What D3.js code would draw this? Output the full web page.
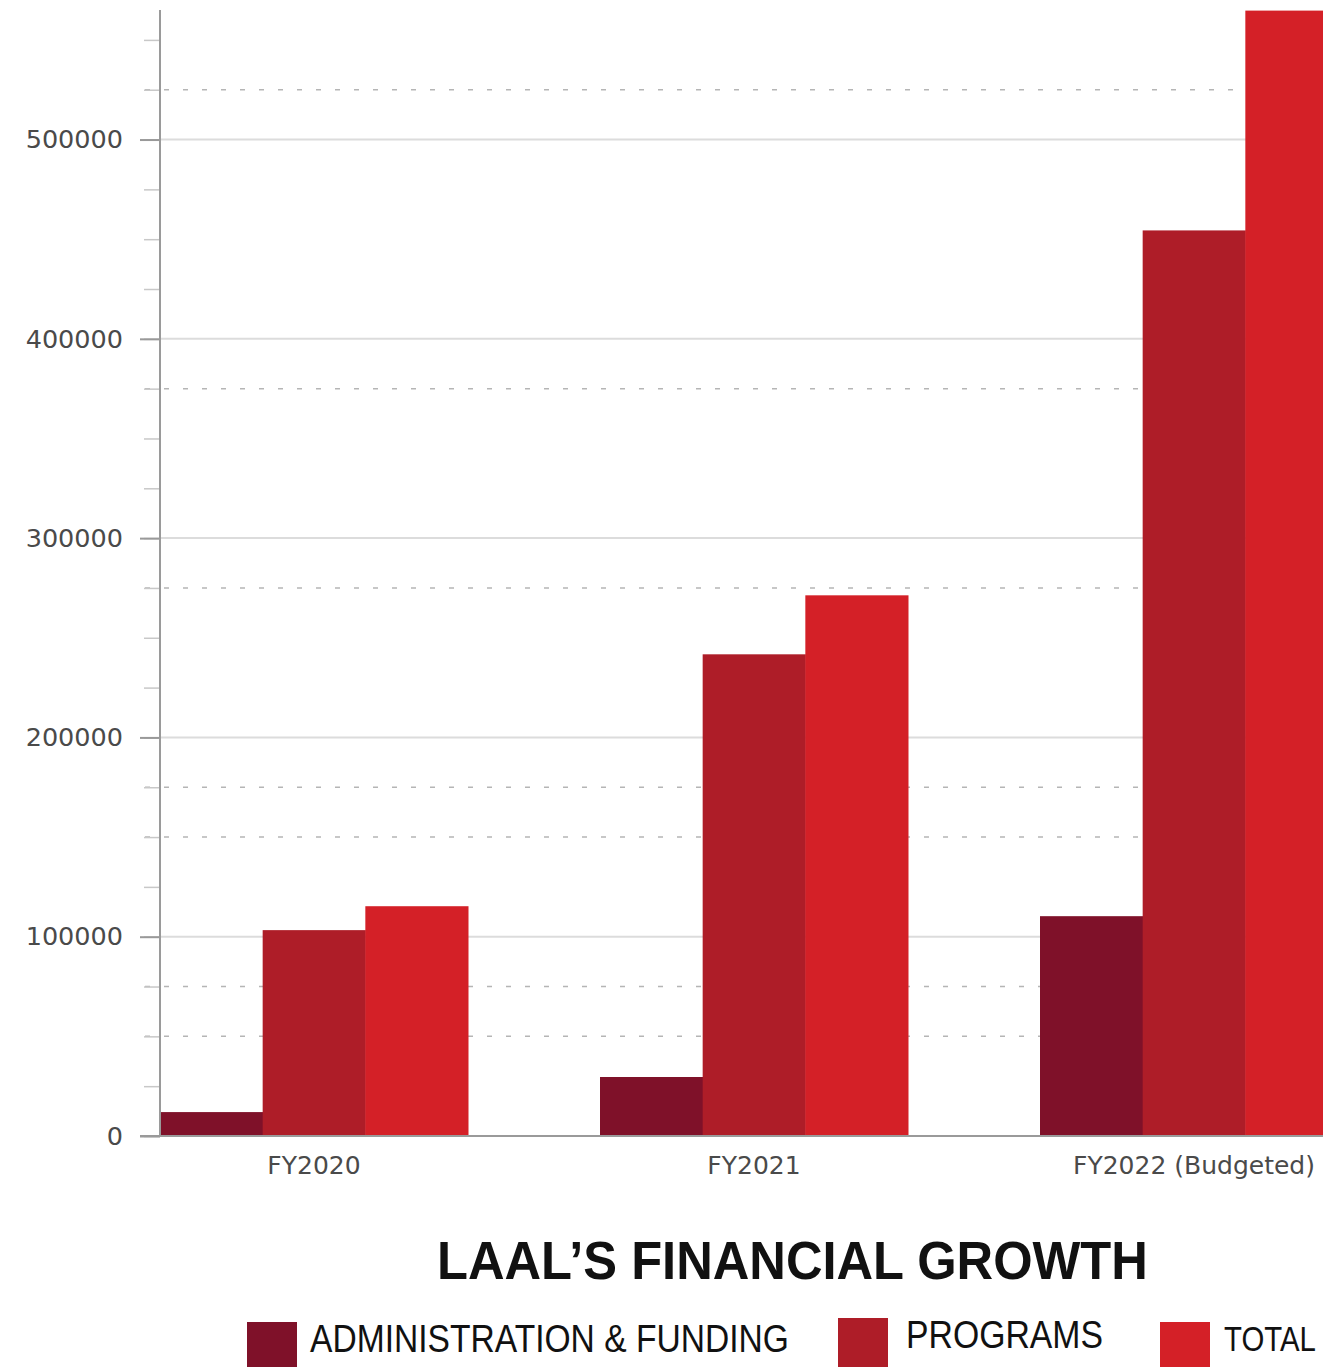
<!DOCTYPE html>
<html>
<head>
<meta charset="utf-8">
<script src="https://cdn.jsdelivr.net/npm/d3@7"></script>
<style>
  body { margin: 0; background: #fff; }
  .axis text { font-family: "DejaVu Sans", sans-serif; fill: #4a4a4a; }
</style>
</head>
<body>
<div id="chart"></div>
<script>
// data
const years = ['FY2020', 'FY2021', 'FY2022 (Budgeted)'];
const seriesNames = ['ADMINISTRATION & FUNDING', 'PROGRAMS', 'TOTAL'];
const adminValues = [12000, 29600, 110300];
const programValues = [103300, 241700, 454400];
const totalValues = [115300, 271300, 564700];
const yTicks = [0, 100000, 200000, 300000, 400000, 500000];
const dashedGrid = [525000, 375000, 275000, 175000, 150000, 75000, 50000];

const colors = ['#7f1129', '#ae1d28', '#d42027'];

const width = 1323, height = 1367;
const svg = d3.select('#chart').append('svg')
    .attr('width', width)
    .attr('height', height);

const x0 = d3.scaleBand()
    .domain(years)
    .range([160, 1348])
    .paddingInner(0.3)
    .paddingOuter(0);

const x1 = d3.scaleBand()
    .domain(seriesNames)
    .range([0, x0.bandwidth()]);

const y = d3.scaleLinear()
    .domain([0, 565000])
    .range([1136, 10]);

const color = d3.scaleOrdinal().domain(seriesNames).range(colors);

// solid gridlines
svg.append('g').selectAll('line')
    .data(yTicks.filter(d => d > 0))
    .join('line')
    .attr('x1', 160).attr('x2', width)
    .attr('y1', d => y(d)).attr('y2', d => y(d))
    .attr('stroke', '#dcdcdc')
    .attr('stroke-width', 2);

// dashed gridlines
svg.append('g').selectAll('line')
    .data(dashedGrid)
    .join('line')
    .attr('x1', 145).attr('x2', width)
    .attr('y1', d => y(d)).attr('y2', d => y(d))
    .attr('stroke', '#b5b5b5')
    .attr('stroke-width', 1.5)
    .attr('stroke-dasharray', '5,14');

// bars
const rows = years.map((yr, i) => ({
  year: yr,
  values: [adminValues[i], programValues[i], totalValues[i]]
}));

svg.append('g').selectAll('g')
    .data(rows)
    .join('g')
    .attr('transform', d => `translate(${x0(d.year)},0)`)
    .selectAll('rect')
    .data(d => d.values.map((v, j) => ({ key: seriesNames[j], value: v })))
    .join('rect')
    .attr('x', d => x1(d.key))
    .attr('width', x1.bandwidth() + 0.5)
    .attr('y', d => y(d.value))
    .attr('height', d => y(0) - y(d.value))
    .attr('fill', d => color(d.key));

// minor ticks
const minorAxis = d3.axisLeft(y)
    .tickValues(d3.range(0, 565000, 25000))
    .tickSize(16)
    .tickFormat('');
svg.append('g')
    .attr('transform', 'translate(160,0)')
    .call(minorAxis)
    .call(g => g.select('.domain').remove())
    .call(g => g.selectAll('.tick line').attr('stroke', '#c8c8c8').attr('stroke-width', 1.5));

// major y axis
const yAxis = d3.axisLeft(y)
    .tickValues(yTicks)
    .tickSize(20)
    .tickPadding(17)
    .tickFormat(d3.format('d'));
svg.append('g')
    .attr('class', 'axis')
    .attr('transform', 'translate(160,0)')
    .call(yAxis)
    .call(g => g.select('.domain').remove())
    .call(g => g.selectAll('.tick line').attr('stroke', '#999').attr('stroke-width', 2))
    .call(g => g.selectAll('.tick text').attr('font-size', 25.5));

// axis lines
svg.append('line')
    .attr('x1', 160).attr('x2', 160)
    .attr('y1', 10).attr('y2', y(0))
    .attr('stroke', '#9a9a9a').attr('stroke-width', 2);

const xAxis = d3.axisBottom(x0).tickSize(0).tickPadding(20);
svg.append('g')
    .attr('class', 'axis')
    .attr('transform', `translate(0,${y(0)})`)
    .call(xAxis)
    .call(g => g.select('.domain').remove())
    .call(g => g.selectAll('.tick text').attr('font-size', 25));

svg.append('line')
    .attr('x1', 140).attr('x2', width)
    .attr('y1', y(0)).attr('y2', y(0))
    .attr('stroke', '#9a9a9a').attr('stroke-width', 2);

// squeeze a text horizontally to a given width (condensed look)
function squeeze(sel, x, yPos, w) {
  const natural = sel.node().getComputedTextLength();
  sel.attr('transform', `translate(${x},${yPos}) scale(${w / natural},1)`);
}

// title
const title = svg.append('text')
    .attr('font-family', 'Liberation Sans, Arial, sans-serif')
    .attr('font-weight', 'bold')
    .attr('font-size', 54)
    .attr('fill', '#111')
    .text('LAAL\u2019S FINANCIAL GROWTH');
squeeze(title, 437, 1279, 711);

// legend
const legendItems = [
  { name: seriesNames[0], sx: 247, sy: 1322, tx: 310, ty: 1352, tw: 479, fs: 38 },
  { name: seriesNames[1], sx: 838, sy: 1318, tx: 906, ty: 1348, tw: 197, fs: 38 },
  { name: seriesNames[2], sx: 1160, sy: 1322, tx: 1224, ty: 1351, tw: 92, fs: 35 }
];
legendItems.forEach(d => {
  svg.append('rect')
      .attr('x', d.sx).attr('y', d.sy)
      .attr('width', 50).attr('height', 50)
      .attr('fill', color(d.name));
  const t = svg.append('text')
      .attr('font-family', 'Liberation Sans, Arial, sans-serif')
      .attr('font-size', d.fs)
      .attr('fill', '#111')
      .text(d.name);
  squeeze(t, d.tx, d.ty, d.tw);
});
</script>
</body>
</html>
